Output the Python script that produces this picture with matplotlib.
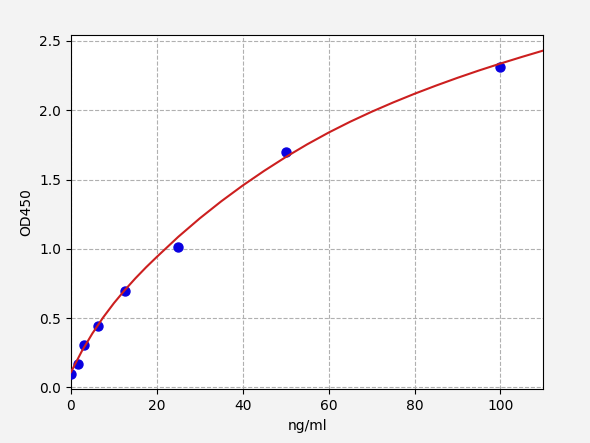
import matplotlib
matplotlib.use("Agg")
import matplotlib.pyplot as plt

# standards (ng/ml) and measured OD450
conc = [0, 1.5625, 3.125, 6.25, 12.5, 25, 50, 100]
od = [0.095, 0.168, 0.303, 0.443, 0.692, 1.015, 1.700, 2.312]

# fitted curve
fit_x = [0, 2.5, 5, 7.5, 10, 12.5, 15, 17.5, 20, 25, 30, 35, 40, 45, 50, 55,
         60, 65, 70, 75, 80, 85, 90, 95, 100, 105, 110]
fit_y = [0.11, 0.26, 0.39, 0.505, 0.608, 0.701, 0.787, 0.867, 0.942, 1.087,
         1.220, 1.343, 1.457, 1.563, 1.662, 1.754, 1.839, 1.917, 1.989, 2.056,
         2.119, 2.178, 2.234, 2.287, 2.337, 2.385, 2.431]

fig = plt.figure(figsize=(5.9, 4.43), dpi=100, facecolor='#f3f3f3')
ax = fig.add_axes([0.1203, 0.1212, 0.8006, 0.7991])
ax.set_facecolor('white')

ax.scatter(conc, od, s=42, color='#0a00e0', zorder=3)
ax.plot(fit_x, fit_y, color='#cc1f1f', lw=1.5, zorder=4)

ax.set_xlim(0, 110)
ax.set_ylim(-0.014, 2.541)
ax.set_xticks([0, 20, 40, 60, 80, 100])
ax.set_yticks([0.0, 0.5, 1.0, 1.5, 2.0, 2.5])
ax.grid(True, linestyle='--', color='#b0b0b0', lw=0.8)
ax.set_axisbelow(True)

ax.set_xlabel('ng/ml')
ax.set_ylabel('OD450')

fig.savefig('out.png', dpi=100, facecolor=fig.get_facecolor())
